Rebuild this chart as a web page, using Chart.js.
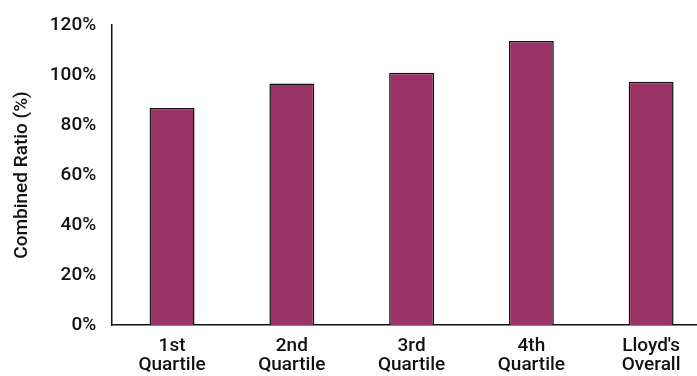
<!DOCTYPE html>
<html>
<head>
<meta charset="utf-8">
<script src="https://cdn.jsdelivr.net/npm/chart.js@4.4.1/dist/chart.umd.min.js"></script>
<style>
  html, body { margin: 0; padding: 0; background: #fff; overflow: hidden; }
  body { width: 697px; height: 376px; }
  #wrap { position: relative; width: 711px; height: 379px; }
</style>
</head>
<body>
<div id="wrap"><canvas id="chart"></canvas></div>
<script>
// Combined ratio by performance quartile, with the market overall
const categories = [["1st", "Quartile"], ["2nd", "Quartile"], ["3rd", "Quartile"], ["4th", "Quartile"], ["Lloyd's", "Overall"]];
const combinedRatio = [86.8, 96.6, 100.9, 113.6, 97.3];
const yTicks = [0, 20, 40, 60, 80, 100, 120];

const fontFamily = "Roboto, 'Liberation Sans', Arial, sans-serif";

new Chart(document.getElementById('chart'), {
  type: 'bar',
  data: {
    labels: categories,
    datasets: [{
      label: 'Combined Ratio (%)',
      data: combinedRatio,
      backgroundColor: '#993366',
      borderColor: '#111111',
      borderWidth: 1.5,
      borderSkipped: 'bottom',
      categoryPercentage: 1.0,
      barPercentage: 0.375
    }]
  },
  options: {
    responsive: true,
    maintainAspectRatio: false,
    animation: false,
    layout: { padding: { top: 25, left: 11, right: 0, bottom: 0 } },
    plugins: { legend: { display: false }, tooltip: { enabled: false } },
    scales: {
      x: {
        grid: { display: false },
        border: { display: true, color: '#111', width: 1.5 },
        ticks: {
          color: '#111',
          padding: 4,
          maxRotation: 0,
          autoSkip: false,
          font: { family: fontFamily, size: 19, weight: '500', lineHeight: 1.0 }
        }
      },
      y: {
        min: yTicks[0],
        max: yTicks[yTicks.length - 1],
        afterBuildTicks: (scale) => { scale.ticks = yTicks.map(v => ({ value: v })); },
        grid: { display: false },
        border: { display: true, color: '#111', width: 1.5 },
        title: {
          display: true,
          text: 'Combined Ratio (%)',
          color: '#111',
          padding: { top: 0, bottom: 8 },
          font: { family: fontFamily, size: 19, weight: '500' }
        },
        ticks: {
          color: '#111',
          padding: 8,
          callback: (v) => v + '%',
          font: { family: fontFamily, size: 19, weight: '500' }
        }
      }
    }
  }
});
</script>
</body>
</html>
